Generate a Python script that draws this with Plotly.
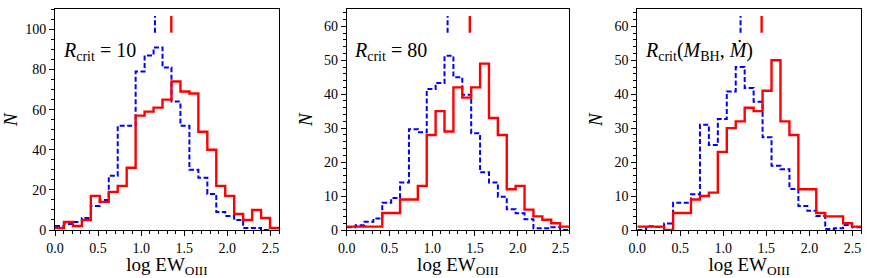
import plotly.graph_objects as go

# ---- data ----
n_bins = 25
x_min, x_max = 0.0, 2.6

red_10 = [1, 4, 2, 5, 17, 14, 19, 22, 31, 57, 59, 61, 65, 74, 69, 68, 49, 40, 22, 17, 8, 5, 10, 6, 1]
blue_10 = [2, 3, 4, 6, 12, 15, 27, 52, 52, 79, 87, 91, 81, 64, 52, 30, 26, 18, 9, 7, 5, 1, 1, 0, 1]

red_80 = [1, 1, 1, 1, 5, 5, 9, 9, 13, 28, 35, 29, 42, 39, 42, 49, 33, 28, 12, 13, 6, 4, 3, 2, 1]
blue_80 = [0.8, 1.4, 2.4, 3.4, 8, 9.4, 14, 29.7, 28.8, 41.5, 43.3, 51.3, 45, 39.8, 28.5, 17,
           14, 9.8, 6.1, 4.9, 3.2, 0.5, 0.5, 0.8, 0]

red_m = [1, 1, 1, 0, 5, 5, 9, 10, 11, 23, 30, 32, 36, 35, 41, 50, 32, 28, 12, 12, 5, 4, 4, 2, 1]
blue_m = [0, 1.1, 0.9, 1.9, 8, 8, 10.5, 31, 25, 32.7, 40.8, 48, 41.8, 37.8, 27.3, 18.9,
          17.9, 12.1, 7.1, 5.7, 4.1, 0.3, 0.5, 1.5, 0.8]

median_blue = [1.16, 1.18, 1.20]
median_red = [1.35, 1.44, 1.445]

labels = ["<i>R</i><sub>crit</sub> = 10",
          "<i>R</i><sub>crit</sub> = 80",
          "<i>R</i><sub>crit</sub>(<i>M</i><sub>BH</sub>, <i>Ṁ</i>)"]
y_max = [110, 65, 65]
y_dtick = [20, 10, 10]
y_minor = [5, 2, 2]

panels = [(red_10, blue_10), (red_80, blue_80), (red_m, blue_m)]

W, H = 871, 278
x_dom_px = [(55, 279), (346.7, 569), (637.3, 861)]
y_dom_px = (9.3, 230)

FONT = "Liberation Serif"
RED = "#ff0000"
BLUE = "#0000ff"
DASH = "5px,2.5px"

width = (x_max - x_min) / n_bins
edges = [x_min + i * width for i in range(n_bins + 1)]

fig = go.Figure()
for i, (red, blue) in enumerate(panels):
    xa = "x" if i == 0 else f"x{i+1}"
    ya = "y" if i == 0 else f"y{i+1}"
    fig.add_trace(go.Scatter(x=edges, y=list(blue) + [blue[-1]], mode="lines",
                             line=dict(color=BLUE, width=2, dash=DASH, shape="hv"),
                             xaxis=xa, yaxis=ya, showlegend=False, hoverinfo="skip"))
    fig.add_trace(go.Scatter(x=edges, y=list(red) + [red[-1]], mode="lines",
                             line=dict(color=RED, width=2.4, shape="hv"),
                             xaxis=xa, yaxis=ya, showlegend=False, hoverinfo="skip"))
    fig.add_shape(type="line", xref=xa, yref=f"{ya} domain",
                  x0=median_blue[i], x1=median_blue[i], y0=0.894, y1=0.97,
                  line=dict(color=BLUE, width=2, dash=DASH))
    fig.add_shape(type="line", xref=xa, yref=f"{ya} domain",
                  x0=median_red[i], x1=median_red[i], y0=0.894, y1=0.97,
                  line=dict(color=RED, width=2.4))
    fig.add_annotation(text=labels[i], xref=f"{xa} domain", yref=f"{ya} domain",
                       x=0.025, y=0.81, xanchor="left", yanchor="middle",
                       showarrow=False, font=dict(family=FONT, size=20, color="black"))

    x0p, x1p = x_dom_px[i]
    axis_common = dict(showline=True, linecolor="black", linewidth=1, mirror=True,
                       ticks="outside", ticklen=5, tickwidth=1, tickcolor="black",
                       showgrid=False, zeroline=False, automargin=False,
                       tickfont=dict(family=FONT, size=14, color="black"))
    xkey = "xaxis" if i == 0 else f"xaxis{i+1}"
    ykey = "yaxis" if i == 0 else f"yaxis{i+1}"
    fig.update_layout(**{
        xkey: dict(domain=[x0p / W, x1p / W], range=[x_min, x_max], anchor=ya,
                   tick0=0, dtick=0.5, tickformat=".1f",
                   minor=dict(dtick=0.1, ticks="outside", ticklen=3, tickcolor="black"),
                   title=dict(text="log EW<sub>OIII</sub>", standoff=7,
                              font=dict(family=FONT, size=19, color="black")),
                   **axis_common),
        ykey: dict(domain=[1 - y_dom_px[1] / H, 1 - y_dom_px[0] / H], range=[0, y_max[i]],
                   anchor=xa, tick0=0, dtick=y_dtick[i],
                   minor=dict(dtick=y_minor[i], ticks="outside", ticklen=3, tickcolor="black"),
                   title=dict(text="<i>N</i>", standoff=6,
                              font=dict(family=FONT, size=19, color="black")),
                   **axis_common),
    })

fig.update_layout(width=W, height=H, margin=dict(l=0, r=0, t=0, b=0),
                  paper_bgcolor="white", plot_bgcolor="white",
                  font=dict(family=FONT, color="black"))

fig.write_html("out.html", config={"displayModeBar": False, "staticPlot": True},
               post_script="document.body.style.margin='0';document.body.style.overflow='hidden';")
